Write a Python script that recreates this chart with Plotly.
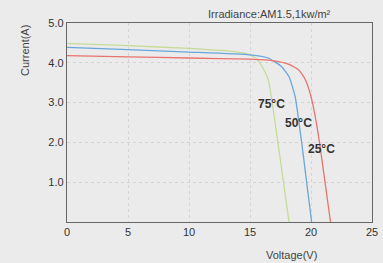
import plotly.graph_objects as go

# Data
v_25 = [0, 5, 10, 15, 17, 18.2, 19, 19.55, 20.0, 20.4, 20.75, 21.6]
i_25 = [4.18, 4.15, 4.12, 4.09, 4.05, 3.96, 3.82, 3.57, 3.15, 2.56, 1.89, 0]
v_50 = [0, 5, 10, 15, 16.5, 17.6, 18.2, 18.7, 19.4, 20.05]
i_50 = [4.39, 4.33, 4.27, 4.2, 4.12, 3.9, 3.65, 3.15, 1.6, 0]
v_75 = [0, 5, 10, 14, 15, 15.6, 16.0, 16.5, 17.4, 18.2]
i_75 = [4.49, 4.43, 4.36, 4.27, 4.2, 4.08, 3.9, 3.57, 1.75, 0]

labels = ["75°C", "50°C", "25°C"]
label_v = [16.74, 19.0, 20.86]
label_i = [2.97, 2.49, 1.84]

x_ticks = [0, 5, 10, 15, 20, 25]
y_ticks = [1, 2, 3, 4, 5]

bg = "#ebebeb"
font_fam = "Liberation Sans, Arial, sans-serif"

fig = go.Figure()
for v, i, col in [(v_75, i_75, "#c5dc98"), (v_50, i_50, "#6aa6da"), (v_25, i_25, "#e8736e")]:
    fig.add_trace(go.Scatter(x=v, y=i, mode="lines",
                             line=dict(color=col, width=1.3, shape="spline", smoothing=0.5),
                             showlegend=False, hoverinfo="skip"))

for t, x, y in zip(labels, label_v, label_i):
    fig.add_annotation(x=x, y=y, text="<b>" + t + "</b>", showarrow=False,
                       font=dict(family=font_fam, size=12, color="#333"))

fig.add_annotation(xref="paper", yref="paper", x=0.665, y=1.045, yanchor="middle",
                   text="Irradiance:AM1.5,1kw/m²", showarrow=False,
                   font=dict(family=font_fam, size=11, color="#444"))
fig.add_annotation(xref="paper", yref="paper", x=-0.138, y=0.864, yanchor="middle",
                   xanchor="center", text="Current(A)", textangle=-90, showarrow=False,
                   font=dict(family=font_fam, size=11, color="#444"))
fig.add_annotation(xref="paper", yref="paper", x=0.825, y=-0.166, yanchor="middle",
                   text="Voltage(V)", showarrow=False,
                   font=dict(family=font_fam, size=11, color="#444"))

fig.update_xaxes(range=[0, 25], tickvals=x_ticks, ticks="", showline=True, mirror=True,
                 linecolor="#666", linewidth=1.3, showgrid=True, gridcolor="#d4d4d4",
                 griddash="dot", gridwidth=1, zeroline=False, automargin=False,
                 tickfont=dict(family=font_fam, size=11, color="#333"))
fig.update_yaxes(range=[0, 5], tickvals=y_ticks, tickformat=".1f", ticks="",
                 showline=True, mirror=True, linecolor="#666", linewidth=1.3,
                 showgrid=True, gridcolor="#d4d4d4", griddash="dot", gridwidth=1,
                 zeroline=False, automargin=False,
                 tickfont=dict(family=font_fam, size=11, color="#333"))

fig.update_layout(width=383, height=263, margin=dict(l=67, r=11, t=23, b=41, autoexpand=False),
                  paper_bgcolor=bg, plot_bgcolor=bg)
fig.write_html("out.html", config={"displayModeBar": False},
               post_script="document.body.style.margin='0';document.body.style.overflow='hidden';")
